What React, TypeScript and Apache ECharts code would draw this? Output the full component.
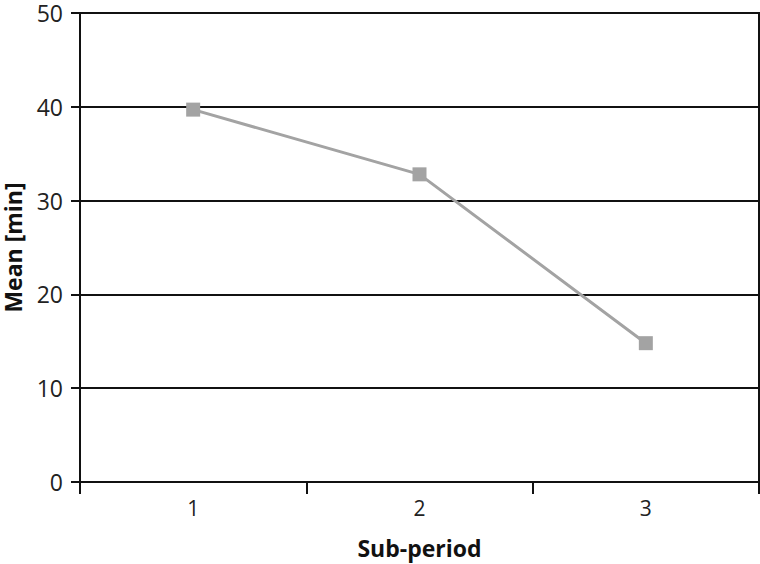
import React, { useEffect, useRef } from "react";
import * as echarts from "echarts";

const categories = ["1", "2", "3"];
const meanValues = [39.7, 32.8, 14.8];
const yTicks = { min: 0, max: 50, interval: 10 };

export default function App() {
  const ref = useRef<HTMLDivElement>(null);
  useEffect(() => {
    if (!ref.current) return;
    const chart = echarts.init(ref.current, null, { renderer: "svg" });
    const font = "Open Sans";
    chart.setOption({
      animation: false,
      backgroundColor: "#ffffff",
      grid: {
        left: 80,
        right: 1,
        top: 13,
        bottom: 82,
        containLabel: false,
        outerBoundsMode: "none",
        show: true,
        borderColor: "#111",
        borderWidth: 2,
        backgroundColor: "transparent",
      },
      xAxis: {
        type: "category",
        data: categories,
        boundaryGap: true,
        name: "Sub-period",
        nameLocation: "middle",
        nameGap: 54,
        nameTextStyle: { fontFamily: font, fontSize: 23, fontWeight: "bold", color: "#111" },
        axisLine: { show: true, lineStyle: { color: "#111", width: 2 } },
        axisTick: { show: true, length: 12, lineStyle: { color: "#111", width: 2 } },
        axisLabel: { fontFamily: font, fontSize: 21, color: "#222", margin: 15 },
        splitLine: { show: false },
      },
      yAxis: {
        type: "value",
        min: yTicks.min,
        max: yTicks.max,
        interval: yTicks.interval,
        name: "Mean [min]",
        nameLocation: "middle",
        nameGap: 56,
        nameRotate: 90,
        nameTextStyle: { fontFamily: font, fontSize: 23, fontWeight: "bold", color: "#111" },
        axisLine: { show: true, lineStyle: { color: "#111", width: 2 } },
        axisTick: { show: true, inside: false, length: 9, lineStyle: { color: "#111", width: 2 } },
        axisLabel: { fontFamily: font, fontSize: 23, color: "#222", margin: 17 },
        splitLine: { show: true, lineStyle: { color: "#111", width: 2 } },
      },
      series: [
        {
          type: "line",
          data: meanValues,
          symbol: "rect",
          symbolSize: 14,
          lineStyle: { color: "#a3a3a3", width: 3 },
          itemStyle: { color: "#a3a3a3" },
          z: 5,
        },
      ],
    });
    return () => chart.dispose();
  }, []);
  return <div ref={ref} style={{ width: 760, height: 564, position: "absolute", left: 0, top: 0 }} />;
}
